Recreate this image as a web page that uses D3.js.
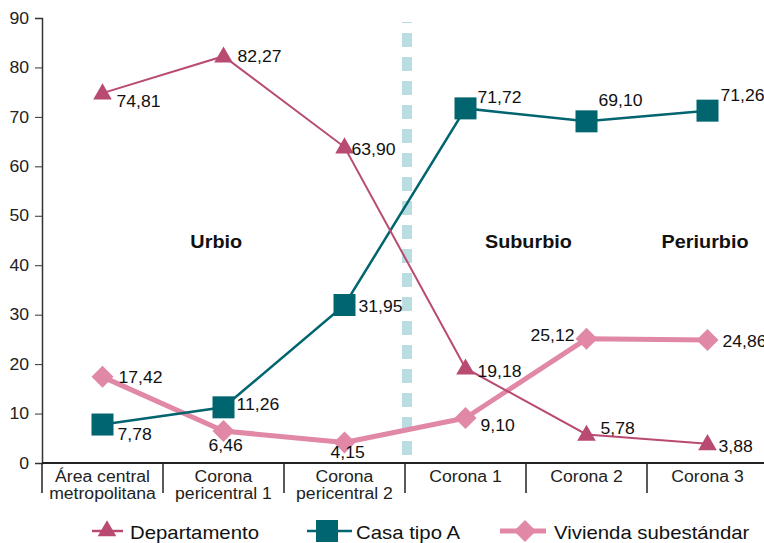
<!DOCTYPE html>
<html>
<head>
<meta charset="utf-8">
<script src="https://cdn.jsdelivr.net/npm/d3@7/dist/d3.min.js"></script>
<style>
  html, body { margin: 0; padding: 0; background: #fff; }
  svg { display: block; font-family: "Liberation Sans", Arial, sans-serif; }
</style>
</head>
<body>
<svg id="chart" width="764" height="543"></svg>
<script>
// Zonas metropolitanas (eje X)
const categories = [
  ["Área central", "metropolitana"],
  ["Corona", "pericentral 1"],
  ["Corona", "pericentral 2"],
  ["Corona 1"],
  ["Corona 2"],
  ["Corona 3"]
];
const yTicks = [0, 10, 20, 30, 40, 50, 60, 70, 80, 90];

const departamento = [74.81, 82.27, 63.90, 19.18, 5.78, 3.88];
const casaTipoA = [7.78, 11.26, 31.95, 71.72, 69.10, 71.26];
const viviendaSubestandar = [17.42, 6.46, 4.15, 9.10, 25.12, 24.86];

// Posición horizontal de cada nombre de zona, en unidades de categoría
const zoneLabels = [
  { name: "Urbio", at: 1.44 },
  { name: "Suburbio", at: 4.02 },
  { name: "Periurbio", at: 5.48 }
];

const fmt = v => v.toFixed(2).replace(".", ",");
const WIDEN = 1.1; // tipografía ligeramente ensanchada

const svg = d3.select("#chart");
const mLeft = 42, mTop = 18, mBottom = 463;

const x = d3.scaleBand().domain(d3.range(categories.length)).range([mLeft, mLeft + 6 * 121]).padding(0);
const y = d3.scaleLinear().domain([0, 90]).range([mBottom, mTop]);
const cx = i => x(i) + x.bandwidth() / 2;

// Divisoria entre urbio y suburbio
svg.append("line")
  .attr("x1", 407).attr("x2", 407)
  .attr("y1", 22).attr("y2", 455)
  .attr("stroke", "#b9dde0").attr("stroke-width", 10)
  .attr("stroke-dasharray", "14,10").attr("stroke-dashoffset", 13);

// Eje Y
const yAxis = svg.append("g")
  .attr("transform", `translate(${mLeft},0)`)
  .call(d3.axisLeft(y).tickValues(yTicks).tickSize(7).tickPadding(6));
yAxis.select(".domain").attr("stroke", "#333").attr("stroke-width", 1.5);
yAxis.selectAll(".tick line").attr("stroke", "#333");
yAxis.selectAll("text").attr("font-size", 16).attr("fill", "#222")
  .attr("font-family", "Liberation Sans, Arial, sans-serif");

// Eje X con separadores
const xg = svg.append("g");
xg.append("line").attr("x1", mLeft).attr("x2", 764).attr("y1", mBottom).attr("y2", mBottom)
  .attr("stroke", "#222").attr("stroke-width", 2);
xg.selectAll(".sep").data(d3.range(categories.length)).enter().append("line")
  .attr("x1", d => x(d)).attr("x2", d => x(d))
  .attr("y1", mBottom).attr("y2", 493)
  .attr("stroke", "#222").attr("stroke-width", 1.5);
categories.forEach((lines, i) => {
  lines.forEach((txt, k) => {
    xg.append("text")
      .attr("x", cx(i))
      .attr("y", 482 + k * 17)
      .attr("text-anchor", "middle")
      .attr("font-size", 16).attr("fill", "#222")
      .text(txt);
  });
});

// Nombres de zona
svg.selectAll(".zone").data(zoneLabels).enter().append("text")
  .attr("x", d => mLeft + d.at * x.bandwidth())
  .attr("y", 248)
  .attr("text-anchor", "middle")
  .attr("font-size", 18).attr("font-weight", "bold").attr("fill", "#111")
  .text(d => d.name);

const line = d3.line().x((d, i) => cx(i)).y(d => y(d));

const colDep = "#b94a72", colCasa = "#00656e", colViv = "#e088a6";

svg.append("path").datum(viviendaSubestandar).attr("d", line)
  .attr("fill", "none").attr("stroke", colViv).attr("stroke-width", 5).attr("stroke-linejoin", "round");
svg.append("path").datum(casaTipoA).attr("d", line)
  .attr("fill", "none").attr("stroke", colCasa).attr("stroke-width", 2.5);
svg.append("path").datum(departamento).attr("d", line)
  .attr("fill", "none").attr("stroke", colDep).attr("stroke-width", 2);

const tri = d3.symbol().type(d3.symbolTriangle).size(150);
const diamond = "M0,-11L11,0L0,11L-11,0Z";

svg.selectAll(".mv").data(viviendaSubestandar).enter().append("path")
  .attr("d", diamond)
  .attr("transform", (d, i) => `translate(${cx(i)},${y(d)})`)
  .attr("fill", colViv);
svg.selectAll(".mc").data(casaTipoA).enter().append("rect")
  .attr("x", (d, i) => cx(i) - 11).attr("y", d => y(d) - 11)
  .attr("width", 22).attr("height", 22).attr("fill", colCasa);
svg.selectAll(".md").data(departamento).enter().append("path")
  .attr("d", tri)
  .attr("transform", (d, i) => `translate(${cx(i)},${y(d) + 1})`)
  .attr("fill", colDep);

// Etiquetas de valor: desplazamiento (dx, dy) respecto al marcador
const depOffsets = [[14, 8], [14, 0], [7, 2], [12, 3], [14, -6], [11, 3]];
const casaOffsets = [[15, 10], [13, -3], [14, 1], [12, -11], [12, -21], [13, -15]];
const vivOffsets = [[16, 1], [-15, 14], [-14, 10], [15, 7], [-12, -3], [15, 1]];

function labels(data, offsets, anchorFn) {
  svg.append("g").selectAll("text").data(data).enter().append("text")
    .attr("x", (d, i) => cx(i) + offsets[i][0])
    .attr("y", (d, i) => y(d) + offsets[i][1])
    .attr("dominant-baseline", "central")
    .attr("text-anchor", (d, i) => offsets[i][0] < 0 ? (anchorFn ? anchorFn(i) : "end") : "start")
    .attr("font-size", 16).attr("fill", "#111")
    .text(d => fmt(d));
}
labels(departamento, depOffsets);
labels(casaTipoA, casaOffsets);
labels(viviendaSubestandar, vivOffsets, i => i === 4 ? "end" : "start");

// Leyenda
const legendY = 531;
const legend = [
  { name: "Departamento", color: colDep, x1: 92, x2: 123, mx: 107, tx: 130, kind: "tri", w: 2.5 },
  { name: "Casa tipo A", color: colCasa, x1: 307, x2: 352, mx: 327, tx: 356, kind: "sq", w: 2.5 },
  { name: "Vivienda subestándar", color: colViv, x1: 500, x2: 546, mx: 525, tx: 554, kind: "dia", w: 5 }
];
const lg = svg.append("g").selectAll("g").data(legend).enter().append("g");
lg.append("line").attr("x1", d => d.x1).attr("x2", d => d.x2)
  .attr("y1", legendY).attr("y2", legendY)
  .attr("stroke", d => d.color).attr("stroke-width", d => d.w);
lg.append("path")
  .attr("d", d => d.kind === "tri" ? tri() : d.kind === "sq" ? "M-11,-11H11V11H-11Z" : diamond)
  .attr("transform", d => `translate(${d.mx},${legendY})`)
  .attr("fill", d => d.color);
lg.append("text").attr("x", d => d.tx).attr("y", legendY + 1)
  .attr("dominant-baseline", "central")
  .attr("font-size", 18.5).attr("fill", "#111")
  .text(d => d.name);

// Ensancha todos los textos manteniendo su anclaje
svg.selectAll("text").each(function () {
  const len = this.getComputedTextLength();
  d3.select(this).attr("textLength", len * WIDEN).attr("lengthAdjust", "spacingAndGlyphs");
});
</script>
</body>
</html>
